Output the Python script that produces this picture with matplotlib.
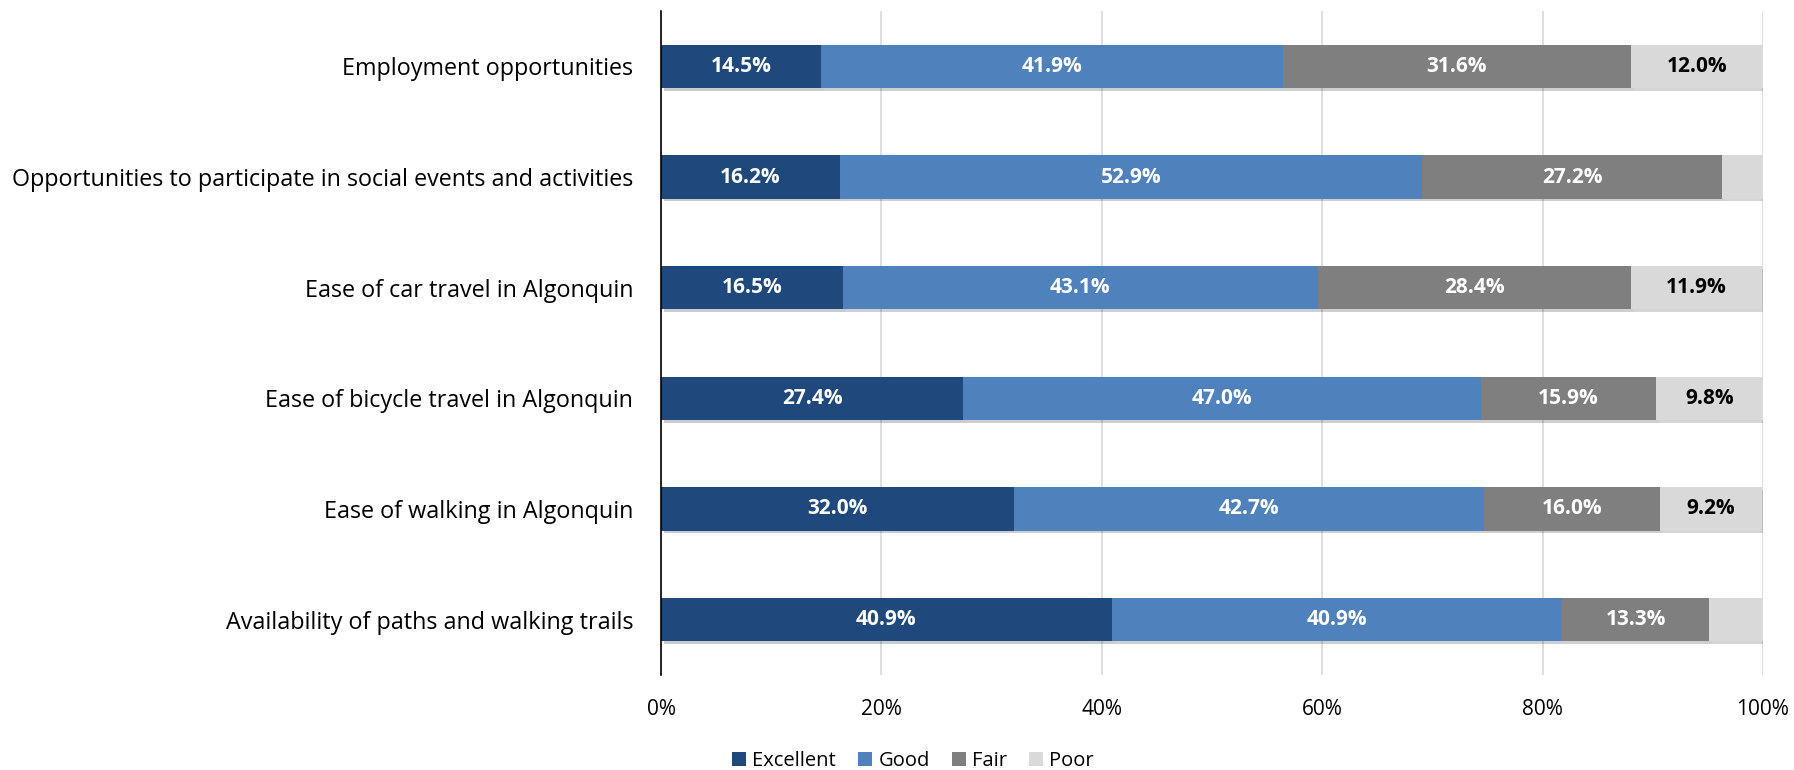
import matplotlib
matplotlib.use("Agg")
import matplotlib.pyplot as plt
import matplotlib.patheffects as pe
from matplotlib.patches import Patch
import numpy as np

categories = [
    "Employment opportunities",
    "Opportunities to participate in social events and activities",
    "Ease of car travel in Algonquin",
    "Ease of bicycle travel in Algonquin",
    "Ease of walking in Algonquin",
    "Availability of paths and walking trails",
]
excellent = [14.5, 16.2, 16.5, 27.4, 32.0, 40.9]
good = [41.9, 52.9, 43.1, 47.0, 42.7, 40.9]
fair = [31.6, 27.2, 28.4, 15.9, 16.0, 13.3]
poor = [12.0, 3.7, 11.9, 9.8, 9.2, 4.9]
series_names = ["Excellent", "Good", "Fair", "Poor"]
colors = ["#1F497D", "#4F81BD", "#7F7F7F", "#D9D9D9"]
label_colors = ["white", "white", "white", "black"]

plt.rcParams['font.family'] = ['Open Sans', 'DejaVu Sans']

fig = plt.figure(figsize=(17.94, 7.70), dpi=100)
ax = fig.add_axes([0.3685, 0.1234, 0.6142, 0.8623])

n = len(categories)
y = np.arange(n)[::-1]
left = np.zeros(n)
for name, vals, col, lc in zip(series_names, [excellent, good, fair, poor], colors, label_colors):
    vals = np.array(vals)
    ax.barh(y, vals, left=left, height=0.39, color=col, zorder=3,
            path_effects=[pe.SimplePatchShadow(offset=(2, -2), alpha=0.22), pe.Normal()])
    for yi, l, v in zip(y, left, vals):
        if v >= 5:
            ax.text(l + v / 2, yi, f"{v:.1f}%", ha="center", va="center",
                    color=lc, fontsize=15, fontweight="bold", zorder=4)
    left = left + vals

ax.set_xlim(0, 100)
ax.set_ylim(-0.5, n - 0.5)
ax.set_yticks(y)
ax.set_yticklabels(categories, fontsize=16.8)
ax.set_xticks(np.arange(0, 101, 20))
ax.set_xticklabels([f"{t}%" for t in range(0, 101, 20)], fontsize=15)
ax.tick_params(axis="both", length=0)
ax.tick_params(axis="y", pad=20)
ax.tick_params(axis="x", pad=17)
ax.xaxis.grid(True, color="#D9D9D9", linewidth=1.2, zorder=0)
for s in ["top", "right", "bottom"]:
    ax.spines[s].set_visible(False)
ax.spines["left"].set_color("black")
ax.spines["left"].set_linewidth(1.2)
ax.spines["left"].set_zorder(5)

handles = [Patch(facecolor=c, label=nm) for c, nm in zip(colors, series_names)]
fig.legend(handles=handles, loc="lower center", bbox_to_anchor=(0.509, -0.025), ncol=4, frameon=False,
           fontsize=14.5, handlelength=0.7, handleheight=0.7, columnspacing=1.1, handletextpad=0.3)

fig.savefig("out.png", dpi=100)
